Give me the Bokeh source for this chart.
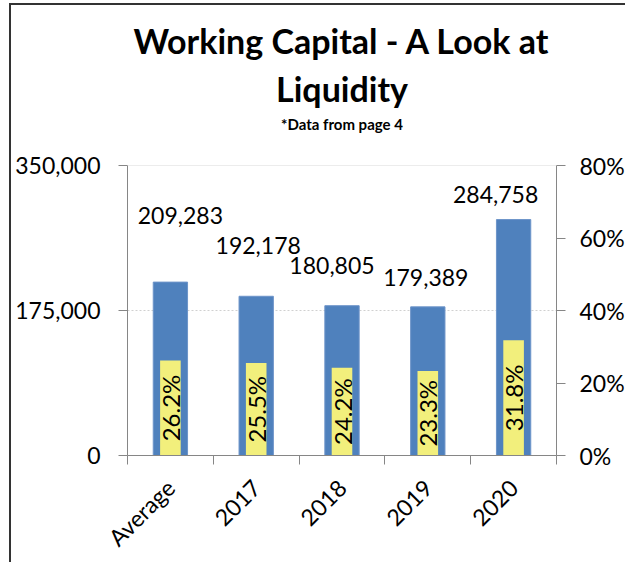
from math import pi
from bokeh.plotting import figure
from bokeh.models import (Range1d, LinearAxis, FixedTicker, NumeralTickFormatter,
                          PrintfTickFormatter, Title, ColumnDataSource, Span)
from bokeh.core.properties import value
from bokeh.embed import file_html
from bokeh.resources import INLINE

# ---- data ----
categories = ["Average", "2017", "2018", "2019", "2020"]
working_capital = [209283, 192178, 180805, 179389, 284758]
liquidity_pct = [26.2, 25.5, 24.2, 23.3, 31.8]
left_ticks = [0, 175000, 350000]
right_ticks = [0, 20, 40, 60, 80]

# ---- label placement (style, screen px) ----
label_dx = [10, 2, -10, -2, -18]
label_dy = [-67, -51, -40, -29, -25]

FONT = "Lato"
AXIS_GREY = "#868686"

xs = [i + 0.5 for i in range(len(categories))]
src = ColumnDataSource(dict(
    x=xs,
    wc=working_capital,
    pct=liquidity_pct,
    pct_mid=[v / 2 for v in liquidity_pct],
    wc_text=[f"{v:,}" for v in working_capital],
    pct_text=[f"{v:.1f}%" for v in liquidity_pct],
    dx=label_dx,
    dy=label_dy,
))

p = figure(width=614, height=557,
           x_range=Range1d(0, len(categories)), y_range=Range1d(0, 350000),
           output_backend="svg", toolbar_location=None, title=None,
           min_border_left=116, min_border_right=70,
           min_border_top=160, min_border_bottom=107,
           styles={"margin-left": "9px", "margin-top": "3px",
                   "box-sizing": "content-box", "overflow": "hidden",
                   "border-left": "2px solid #333333",
                   "border-top": "2px solid #333333"})
p.extra_y_ranges = {"pct": Range1d(0, 80)}
p.outline_line_color = None
p.background_fill_color = "white"
p.border_fill_color = "white"

# grid
p.xgrid.visible = False
p.ygrid.ticker = FixedTicker(ticks=[175000])
p.ygrid.grid_line_color = "#d0d0d0"
p.ygrid.grid_line_dash = "2 2"
p.add_layout(Span(location=350000, dimension="width", line_color="#d9d9d9", line_width=1))

# bars
p.vbar(x="x", top="wc", width=0.4, source=src, fill_color="#4F81BD",
       line_color="#6d94c9", line_width=1)
p.vbar(x="x", top="pct", width=0.24, source=src, y_range_name="pct",
       fill_color="#F2EF7C", line_color=None)

# value labels
p.text(x="x", y="wc", text="wc_text", x_offset="dx", y_offset="dy", source=src,
       text_align="center", text_baseline="alphabetic",
       text_font=value(FONT), text_font_size="23px", text_color="black")
p.text(x="x", y="pct_mid", text="pct_text", source=src, y_range_name="pct",
       angle=pi / 2, text_align="center", text_baseline="middle",
       text_font=value(FONT), text_font_size="24px", text_color="black")

# left axis
ya = p.yaxis[0]
ya.ticker = FixedTicker(ticks=left_ticks)
ya.formatter = NumeralTickFormatter(format="0,0")
ya.axis_line_color = AXIS_GREY
ya.major_tick_line_color = AXIS_GREY
ya.major_tick_out = 9
ya.major_tick_in = 0
ya.minor_tick_line_color = None
ya.major_label_text_font = FONT
ya.major_label_text_font_size = "23px"
ya.major_label_text_color = "black"
ya.major_label_standoff = 18

# right axis
ra = LinearAxis(y_range_name="pct", ticker=FixedTicker(ticks=right_ticks),
                formatter=PrintfTickFormatter(format="%d%%"))
ra.axis_line_color = AXIS_GREY
ra.major_tick_line_color = AXIS_GREY
ra.major_tick_out = 9
ra.major_tick_in = 0
ra.minor_tick_line_color = None
ra.major_label_text_font = FONT
ra.major_label_text_font_size = "23px"
ra.major_label_text_color = "black"
ra.major_label_standoff = 14
p.add_layout(ra, "right")

# bottom axis: labels at centers, ticks at category boundaries
xa = p.xaxis[0]
xa.ticker = FixedTicker(ticks=xs, minor_ticks=list(range(len(categories) + 1)))
xa.major_label_overrides = {x: c for x, c in zip(xs, categories)}
xa.axis_line_color = AXIS_GREY
xa.major_tick_line_color = None
xa.major_tick_out = 0
xa.major_tick_in = 0
xa.minor_tick_line_color = AXIS_GREY
xa.minor_tick_out = 9
xa.minor_tick_in = 0
xa.major_label_orientation = pi / 4
xa.major_label_text_font = FONT
xa.major_label_text_font_size = "23px"
xa.major_label_text_color = "black"
xa.major_label_standoff = 19

# subtitle as the label of a tickless axis above the plot (closest to the plot)
sub = LinearAxis(ticker=FixedTicker(ticks=[]), axis_label="*Data from page 4")
sub.axis_line_color = None
sub.major_tick_line_color = None
sub.minor_tick_line_color = None
sub.major_tick_out = 0
sub.major_tick_in = 0
sub.minor_tick_out = 0
sub.minor_tick_in = 0
sub.major_label_standoff = 0
sub.axis_label_standoff = 33
sub.axis_label_text_font = FONT
sub.axis_label_text_font_size = "15px"
sub.axis_label_text_font_style = "bold"
sub.axis_label_text_color = "black"
p.add_layout(sub, "above")

# title lines
p.add_layout(Title(text="Liquidity", align="center", text_font=FONT,
                   text_font_size="34px", text_font_style="bold",
                   text_color="black", standoff=6), "above")
p.add_layout(Title(text="Working Capital - A Look at", align="center", text_font=FONT,
                   text_font_size="34px", text_font_style="bold",
                   text_color="black", standoff=4), "above")

open("out.html", "w").write(file_html(p, INLINE))
